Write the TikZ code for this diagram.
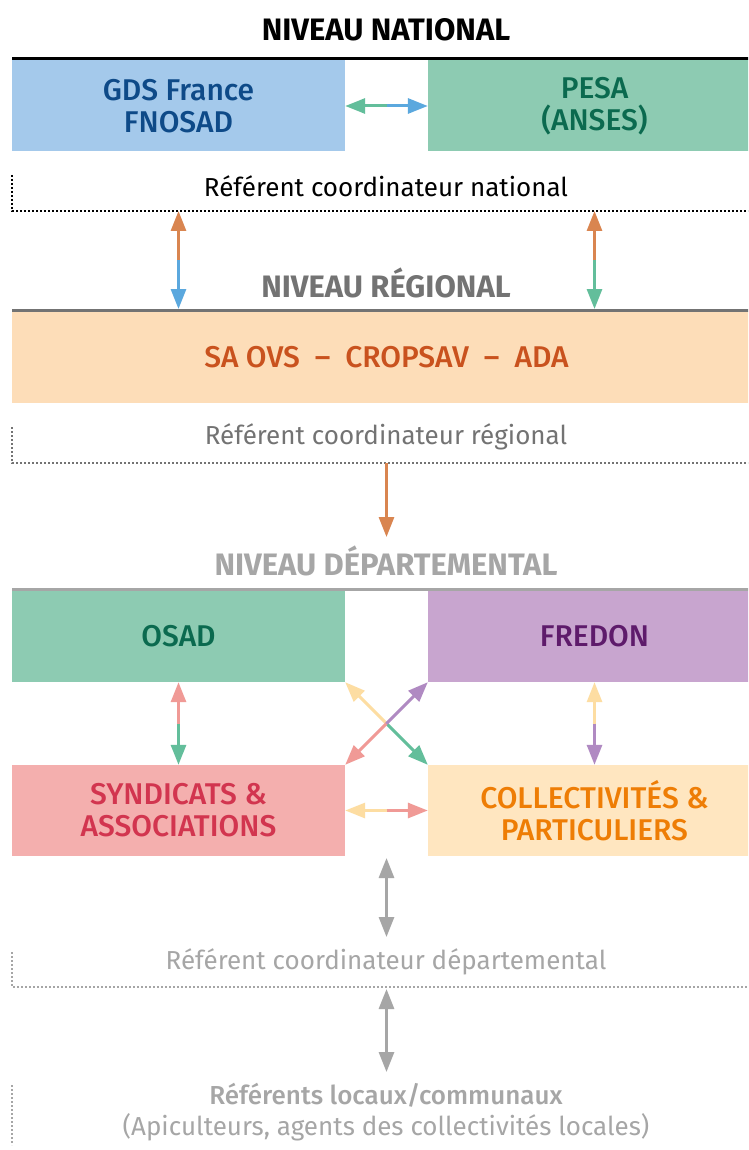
\documentclass[tikz,border=0pt]{standalone}
\usepackage{fontspec}
\setmainfont{Fira Sans}
\newfontfamily\medfont{Fira Sans Medium}
\usetikzlibrary{arrows.meta,calc}
\definecolor{gdsfill}{HTML}{A4C9EB}
\definecolor{gdstext}{HTML}{0E4A88}
\definecolor{pesafill}{HTML}{8DCBB2}
\definecolor{pesatext}{HTML}{0B6A4F}
\definecolor{safill}{HTML}{FDDDB8}
\definecolor{satext}{HTML}{C9521E}
\definecolor{fredfill}{HTML}{C8A5CF}
\definecolor{fredtext}{HTML}{5E1B6B}
\definecolor{synfill}{HTML}{F4AFAE}
\definecolor{syntext}{HTML}{D2354F}
\definecolor{colfill}{HTML}{FFE6C0}
\definecolor{coltext}{HTML}{EE7D05}
\definecolor{aBlue}{HTML}{5BA8DE}
\definecolor{aGreen}{HTML}{63BE9B}
\definecolor{aOrange}{HTML}{D98550}
\definecolor{aPink}{HTML}{F09A96}
\definecolor{aYellow}{HTML}{FDDDA2}
\definecolor{aPurple}{HTML}{B08AC2}
\definecolor{regGray}{HTML}{737373}
\definecolor{depGray}{HTML}{A6A6A6}
\tikzset{
  box/.style={inner sep=0pt, minimum width=333pt, minimum height=91pt, align=center,
    font=\medfont\fontsize{30}{32}\selectfont},
  levelhead/.style={font=\bfseries\fontsize{31}{34}\selectfont, inner sep=0pt},
  reftext/.style={font=\fontsize{26}{30}\selectfont, inner sep=0pt},
  arr/.style={line width=3pt, -{Triangle[length=20pt,width=15pt]}},
  darr/.style={line width=3pt, {Triangle[length=20pt,width=15pt]}-{Triangle[length=20pt,width=15pt]}},
  dotline/.style={line width=2.6pt, dash pattern=on 2.2pt off 1.8pt},
}
\begin{document}
\begin{tikzpicture}[x=1pt,y=-1pt]
\clip (0,0) rectangle (748,1150);
\fill[white] (0,0) rectangle (748,1150);

% ---------- national ----------
\node[levelhead, text=black] (hnat) at (386,30) {NIVEAU NATIONAL};
\node[box, fill=gdsfill, text=gdstext] (gds) at (178.5,106) {GDS France\\FNOSAD};
\node[box, fill=pesafill, text=pesatext] (pesa) at (594.5,106) {PESA\\(ANSES)};
\draw[line width=3pt, black] (12,59) -- (761,59);
\node[reftext, text=black] (rnat) at (386,186) {Référent coordinateur national};
\coordinate (rnatL) at (12,211);
\coordinate (rnatR) at (761,211);
\draw[dotline, black] (12,175) -- (rnatL) -- (rnatR);
\coordinate (gp) at ($(gds.east)!0.5!(pesa.west)$);
\draw[arr, aGreen] (gp) -- (gds.east);
\draw[arr, aBlue] (gp) -- (pesa.west);

% ---------- regional ----------
\node[levelhead, text=regGray] (hreg) at (386,283) {NIVEAU RÉGIONAL};
\node[box, fill=safill, text=satext, minimum width=749pt, minimum height=92pt] (sa) at (386.5,357)
  {SA OVS \ – \ CROPSAV \ – \ ADA};
\draw[line width=3pt, regGray] (12,310) -- (761,310);
\coordinate (a1t) at (gds |- rnatL);
\coordinate (a1b) at (178.5,309);
\coordinate (a1m) at ($(a1t)!0.5!(a1b)$);
\draw[arr, aOrange] (a1m) -- (a1t);
\draw[arr, aBlue] (a1m) -- (a1b);
\coordinate (a2t) at (pesa |- rnatL);
\coordinate (a2b) at (594.5,309);
\coordinate (a2m) at ($(a2t)!0.5!(a2b)$);
\draw[arr, aOrange] (a2m) -- (a2t);
\draw[arr, aGreen] (a2m) -- (a2b);
\node[reftext, text=regGray] (rreg) at (386,437) {Référent coordinateur régional};
\coordinate (rregL) at (12,463);
\draw[dotline, regGray] (12,427) -- (rregL) -- (761,463);

% ---------- departmental ----------
\node[levelhead, text=depGray] (hdep) at (386,561) {NIVEAU DÉPARTEMENTAL};
\coordinate (a3t) at (386.5,463);
\coordinate (a3b) at (386.5,537);
\draw[arr, aOrange] (a3t) -- (a3b);
\node[box, fill=pesafill, text=pesatext] (osad) at (178.5,636.5) {OSAD};
\node[box, fill=fredfill, text=fredtext] (fred) at (594.5,636.5) {FREDON};
\draw[line width=3pt, depGray] (12,589) -- (761,589);
\node[box, fill=synfill, text=syntext] (syn) at (178.5,810.5) {SYNDICATS \&\\ASSOCIATIONS};
\node[box, fill=colfill, text=coltext] (col) at (594.5,810.5) {COLLECTIVITÉS \&\\PARTICULIERS};

% vertical links
\coordinate (osm) at ($(osad.south)!0.5!(syn.north)$);
\draw[arr, aPink] (osm) -- (osad.south);
\draw[arr, aGreen] (osm) -- (syn.north);
\coordinate (frm) at ($(fred.south)!0.5!(col.north)$);
\draw[arr, aYellow] (frm) -- (fred.south);
\draw[arr, aPurple] (frm) -- (col.north);
% cross links
\coordinate (c1) at ($(osad.south east)!0.5!(col.north west)$);
\draw[arr, aYellow] (c1) -- (osad.south east);
\draw[arr, aGreen] (c1) -- (col.north west);
\coordinate (c2) at ($(syn.north east)!0.5!(fred.south west)$);
\draw[arr, aPink] (c2) -- (syn.north east);
\draw[arr, aPurple] (c2) -- (fred.south west);
% horizontal link
\coordinate (sc) at ($(syn.east)!0.5!(col.west)$);
\draw[arr, aYellow] (sc) -- (syn.east);
\draw[arr, aPink] (sc) -- (col.west);

% ---------- referents ----------
\node[reftext, text=depGray] (rdep) at (386,962) {Référent coordinateur départemental};
\coordinate (rdepL) at (12,987);
\draw[dotline, depGray] (12,952) -- (rdepL) -- (761,987);
\coordinate (a4t) at (386.5,858);
\coordinate (a4b) at (386.5,937);
\draw[darr, depGray] (a4t) -- (a4b);
\coordinate (a5t) at (386.5,989);
\coordinate (a5b) at (386.5,1072);
\draw[darr, depGray] (a5t) -- (a5b);
\node[reftext, text=depGray, font=\medfont\fontsize{26}{30}\selectfont] (rloc) at (386,1095) {Référents locaux/communaux};
\node[reftext, text=depGray] (rloc2) at (386,1127) {(Apiculteurs, agents des collectivités locales)};
\draw[dotline, depGray] (12,1085) -- (12,1145);
\end{tikzpicture}
\end{document}
